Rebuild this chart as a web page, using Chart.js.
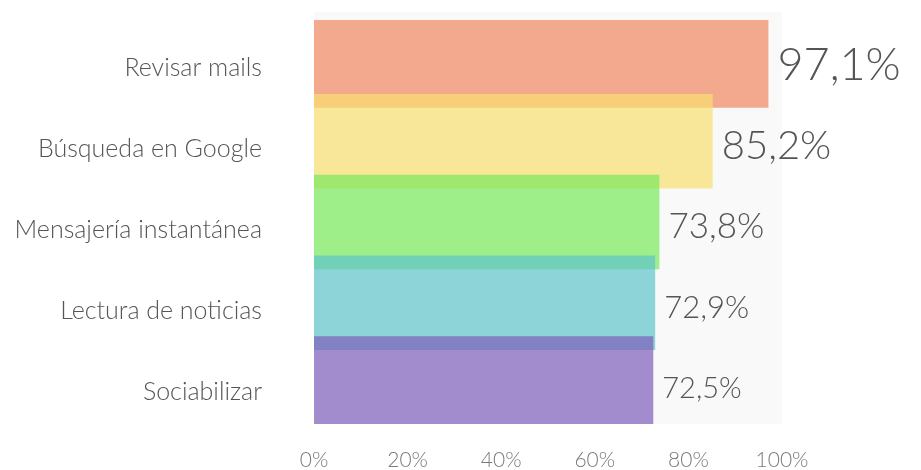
<!DOCTYPE html>
<html>
<head>
<meta charset="utf-8">
<script src="https://cdn.jsdelivr.net/npm/chart.js@4/dist/chart.umd.min.js"></script>
<style>
  html, body { margin: 0; padding: 0; background: #fff; }
  #wrap { width: 921px; height: 470px; }
</style>
</head>
<body>
<div id="wrap"><canvas id="myChart"></canvas></div>
<script>
const categories = ['Revisar mails', 'Búsqueda en Google', 'Mensajería instantánea', 'Lectura de noticias', 'Sociabilizar'];
const values = [97.1, 85.2, 73.8, 72.9, 72.5];
const tickValues = [0, 20, 40, 60, 80, 100];

const barColors = ['rgba(239,135,95,0.7)', 'rgba(248,224,111,0.7)', 'rgba(119,234,91,0.7)', 'rgba(94,196,202,0.7)', 'rgba(125,94,188,0.7)'];
const valueFontSizes = [45, 40, 35, 31, 29];

// grey panel behind the bars
const panelBg = {
    id: 'panelBg',
    beforeDraw(chart) {
        const a = chart.chartArea;
        const ctx = chart.ctx;
        ctx.save();
        ctx.fillStyle = '#f9f9f9';
        ctx.fillRect(a.left, a.top - 8, a.right - a.left, a.bottom - a.top + 8);
        ctx.restore();
    }
};

// percentage labels at the end of each bar
const valueLabels = {
    id: 'valueLabels',
    afterDatasetsDraw(chart) {
        const ctx = chart.ctx;
        const meta = chart.getDatasetMeta(0);
        ctx.save();
        ctx.fillStyle = '#555';
        ctx.textBaseline = 'middle';
        ctx.textAlign = 'left';
        meta.data.forEach((bar, i) => {
            ctx.font = '300 ' + valueFontSizes[i] + 'px Lato';
            const txt = values[i].toFixed(1).replace('.', ',') + '%';
            ctx.fillText(txt, bar.x + 9, bar.y + 5);
        });
        ctx.restore();
    }
};

new Chart(document.getElementById('myChart'), {
    type: 'bar',
    data: {
        labels: categories,
        datasets: [{
            data: values,
            backgroundColor: barColors,
            borderWidth: 0,
            categoryPercentage: 1,
            barPercentage: 1.17
        }]
    },
    options: {
        indexAxis: 'y',
        responsive: true,
        maintainAspectRatio: false,
        animation: false,
        layout: { padding: { top: 20, right: 139, bottom: 0, left: 0 } },
        scales: {
            x: {
                min: 0,
                max: 100,
                afterBuildTicks(scale) {
                    scale.ticks = tickValues.map(v => ({ value: v }));
                },
                afterFit(scale) { scale.height = 46; },
                grid: { display: false },
                border: { display: false },
                ticks: {
                    padding: 16,
                    maxRotation: 0,
                    color: '#7a7a7a',
                    font: { family: 'Lato', size: 21, weight: 300 },
                    callback: v => v + '%'
                }
            },
            y: {
                afterFit(scale) {
                    scale.width = 314;
                    scale.paddingTop = 0;
                    scale.paddingBottom = 0;
                },
                grid: { display: false },
                border: { display: false },
                ticks: {
                    padding: 44,
                    labelOffset: 8,
                    color: '#555',
                    font: { family: 'Lato', size: 25, weight: 300 }
                }
            }
        },
        plugins: {
            legend: { display: false },
            title: { display: false },
            tooltip: { enabled: false }
        }
    },
    plugins: [panelBg, valueLabels]
});
</script>
</body>
</html>
